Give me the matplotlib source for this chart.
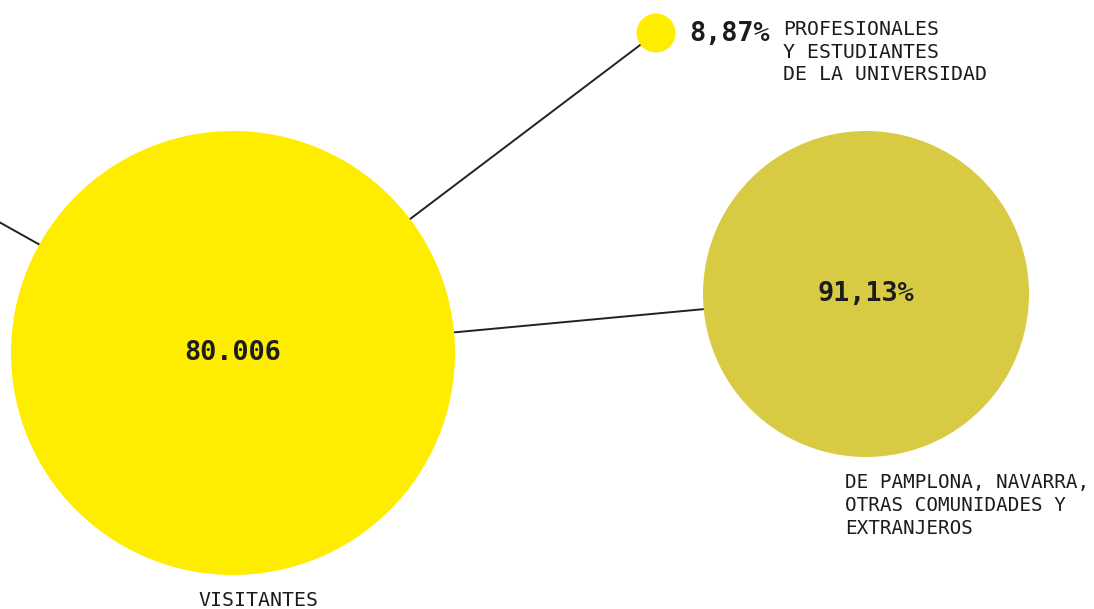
import matplotlib.pyplot as plt
from matplotlib.patches import Circle

# datos
total_visitantes = 80006
categorias = ['DE PAMPLONA, NAVARRA,\nOTRAS COMUNIDADES Y\nEXTRANJEROS',
              'PROFESIONALES\nY ESTUDIANTES\nDE LA UNIVERSIDAD']
porcentajes = [91.13, 8.87]
etiqueta_total = 'VISITANTES'

plt.rcParams['font.family'] = ['DejaVu Sans Mono']

AMARILLO = '#FFED00'
OLIVA = '#D8CB43'
TEXTO = '#1c1c1c'

fig = plt.figure(figsize=(10.94, 6.09), dpi=100)
ax = fig.add_axes([0, 0, 1, 1])
ax.set_xlim(0, 1094)
ax.set_ylim(609, 0)
ax.set_aspect('equal')
ax.axis('off')

# layout (pixeles)
centro = (233, 353)
nodos = [(866, 294), (656, 33)]
radios = [163, 19.5]
colores = [OLIVA, AMARILLO]

# lineas que unen los centros
ax.plot([-60, centro[0]], [353 - 0.56 * 293, centro[1]], color='#222222', lw=1.4, zorder=1)
for (x, y) in nodos:
    ax.plot([centro[0], x], [centro[1], y], color='#222222', lw=1.4, zorder=1)

ax.add_patch(Circle(centro, 222, color=AMARILLO, zorder=2, lw=0))
for (x, y), r, c in zip(nodos, radios, colores):
    ax.add_patch(Circle((x, y), r, color=c, zorder=2, lw=0))

def fmt(v):
    return f'{v:.2f}'.replace('.', ',') + '%'

ax.text(centro[0], centro[1], f'{total_visitantes:,}'.replace(',', '.'), ha='center', va='center',
        fontsize=19.4, fontweight='bold', color=TEXTO, zorder=3)
ax.text(258, 601, etiqueta_total, ha='center', va='center', fontsize=14.3, color=TEXTO, zorder=3)

# categoria grande
ax.text(nodos[0][0], nodos[0][1], fmt(porcentajes[0]), ha='center', va='center',
        fontsize=19.4, fontweight='bold', color=TEXTO, zorder=3)
ax.text(845, 473, categorias[0], ha='left', va='top', fontsize=13.9, linespacing=1.28, color=TEXTO, zorder=3)

# categoria pequena
ax.text(689, 34, fmt(porcentajes[1]), ha='left', va='center',
        fontsize=19.4, fontweight='bold', color=TEXTO, zorder=3)
ax.text(783, 20, categorias[1], ha='left', va='top', fontsize=14.3, linespacing=1.24, color=TEXTO, zorder=3)

plt.savefig('out.png', dpi=100)
